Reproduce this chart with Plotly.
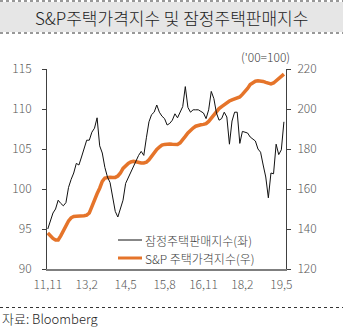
import plotly.graph_objects as go

# Monthly series, 2011.11 - 2019.6
months = list(range(92))

# 잠정주택판매지수 (left axis)
pending_sales = [
    95.0, 96.0, 97.0, 97.5, 98.6, 98.2, 97.9, 98.3, 100.2, 101.2,
    102.0, 103.2, 103.0, 104.0, 105.2, 106.1, 106.1, 107.1, 107.6, 108.9,
    105.4, 104.5, 102.7, 101.5, 100.8, 98.9, 97.2, 96.5, 97.6, 98.6,
    100.7, 101.4, 102.1, 102.9, 103.4, 104.2, 104.7, 104.2, 106.4, 108.4,
    109.3, 109.6, 110.5, 109.6, 109.1, 108.8, 108.0, 108.2, 108.6, 109.4,
    108.9, 109.7, 110.3, 112.8, 110.2, 109.6, 109.9, 109.9, 109.9, 109.7,
    109.5, 108.8, 109.9, 112.2, 111.3, 109.5, 108.6, 108.8, 109.6, 109.0,
    105.6, 108.5, 109.6, 109.6, 105.7, 107.2, 107.1, 107.0, 106.5, 106.3,
    106.0, 105.0, 104.6, 103.0, 101.5, 98.9, 102.0, 101.9, 105.6, 104.3,
    104.9, 108.4,
]

# S&P 주택가격지수 ('00=100, right axis)
sp_price = [
    138.0, 136.5, 135.3, 134.5, 134.5, 136.6, 139.3, 141.8, 144.0, 145.6,
    146.3, 146.4, 146.4, 146.5, 146.6, 146.9, 148.0, 151.2, 155.0, 157.6,
    160.4, 163.8, 165.5, 165.8, 165.9, 165.8, 165.8, 166.5, 168.0, 170.3,
    171.8, 172.8, 173.5, 173.8, 173.6, 173.2, 173.0, 173.0, 173.4, 174.6,
    176.4, 178.2, 179.8, 180.9, 181.9, 182.3, 182.5, 182.5, 182.4, 182.2,
    182.3, 183.1, 184.4, 186.3, 188.0, 189.4, 190.5, 191.4, 191.9, 192.1,
    192.3, 192.7, 193.8, 195.5, 197.4, 199.0, 200.2, 201.2, 202.3, 203.3,
    204.0, 204.6, 205.0, 205.3, 206.0, 207.3, 208.6, 210.3, 212.2, 213.3,
    213.9, 214.1, 214.0, 213.8, 213.3, 212.8, 212.5, 213.0, 214.2, 215.2,
    216.3, 217.4,
]

tick_pos = [0, 15, 30, 45, 60, 75, 90]
tick_labels = ["11,11", "13,2", "14,5", "15,8", "16,11", "18,2", "19,5"]

title_text = "S&P주택가격지수 및 잠정주택판매지수"
name_sales = "잠정주택판매지수(좌)"
name_price = "S&P 주택가격지수(우)"
unit_text = "('00=100)"
source_text = "자료: Bloomberg"

FONT = "Noto Sans CJK KR"
ORANGE = "#E5742A"
W, H = 343, 329
L, R, T, B = 47, 286, 69, 269


def px(x):
    return (x - L) / (R - L)


def py(y):
    return (B - y) / (B - T)


def tfont(size, color):
    return dict(family=FONT, size=size, color=color, weight=300)


fig = go.Figure()
fig.add_trace(go.Scatter(
    x=months, y=sp_price, mode="lines", name=name_price,
    line=dict(color=ORANGE, width=3.5), yaxis="y", showlegend=False,
))
fig.add_trace(go.Scatter(
    x=months, y=pending_sales, mode="lines", name=name_sales,
    line=dict(color="#111111", width=1), yaxis="y2", showlegend=False,
))

tickfont = tfont(12, "#595959")

shapes = [
    # title band
    dict(type="rect", xref="paper", yref="paper", x0=px(0), x1=px(W),
         y0=py(32), y1=py(2), fillcolor="#E6E6E6", line=dict(width=0), layer="below"),
    dict(type="line", xref="paper", yref="paper", x0=px(0), x1=px(W),
         y0=py(1), y1=py(1), line=dict(color="#333333", width=1, dash="dot")),
    dict(type="line", xref="paper", yref="paper", x0=px(0), x1=px(W),
         y0=py(33), y1=py(33), line=dict(color="#333333", width=1, dash="dot")),
    # separator above the source line
    dict(type="line", xref="paper", yref="paper", x0=px(0), x1=px(W),
         y0=py(307.5), y1=py(307.5), line=dict(color="#333333", width=1, dash="dot")),
    # legend samples
    dict(type="line", xref="paper", yref="paper", x0=px(118), x1=px(142),
         y0=py(240), y1=py(240), line=dict(color="#111111", width=1)),
    dict(type="line", xref="paper", yref="paper", x0=px(118), x1=px(142),
         y0=py(258), y1=py(258), line=dict(color=ORANGE, width=3)),
]

annotations = [
    dict(text=title_text, xref="paper", yref="paper", x=px(171.5), y=py(17),
         xanchor="center", yanchor="middle", showarrow=False,
         font=tfont(17, "#222222")),
    dict(text=unit_text, xref="paper", yref="paper", x=px(292), y=py(57),
         xanchor="right", yanchor="middle", showarrow=False,
         font=tfont(12, "#404040")),
    dict(text=name_sales, xref="paper", yref="paper", x=px(143), y=py(240),
         xanchor="left", yanchor="middle", showarrow=False,
         font=tfont(12, "#404040")),
    dict(text=name_price, xref="paper", yref="paper", x=px(143), y=py(258),
         xanchor="left", yanchor="middle", showarrow=False,
         font=tfont(12, "#404040")),
    dict(text=source_text, xref="paper", yref="paper", x=px(0), y=py(318),
         xanchor="left", yanchor="middle", showarrow=False,
         font=tfont(13, "#222222")),
]

fig.update_layout(
    width=W, height=H,
    margin=dict(l=L, r=W - R, t=T, b=H - B, pad=0),
    paper_bgcolor="white", plot_bgcolor="white",
    font=dict(family=FONT, weight=300),
    showlegend=False,
    xaxis=dict(
        range=[-0.3, 91.8], tickvals=tick_pos, ticktext=tick_labels,
        showgrid=False, zeroline=False, showline=True,
        linecolor="#7F7F7F", linewidth=2, ticks="", tickfont=tickfont,
        ticklabelstandoff=4,
    ),
    yaxis=dict(
        range=[120, 220], dtick=20, side="right",
        showgrid=False, zeroline=False, showline=True,
        linecolor="#404040", linewidth=1, ticks="outside", ticklen=4,
        tickcolor="#404040", tickfont=tickfont, ticklabelstandoff=4,
    ),
    yaxis2=dict(
        range=[90, 115], dtick=5, side="left", overlaying="y",
        showgrid=False, zeroline=False, showline=True,
        linecolor="#404040", linewidth=1, ticks="outside", ticklen=4,
        tickcolor="#404040", tickfont=tickfont, ticklabelstandoff=8,
    ),
    shapes=shapes,
    annotations=annotations,
)

fig.write_html("out.html")
